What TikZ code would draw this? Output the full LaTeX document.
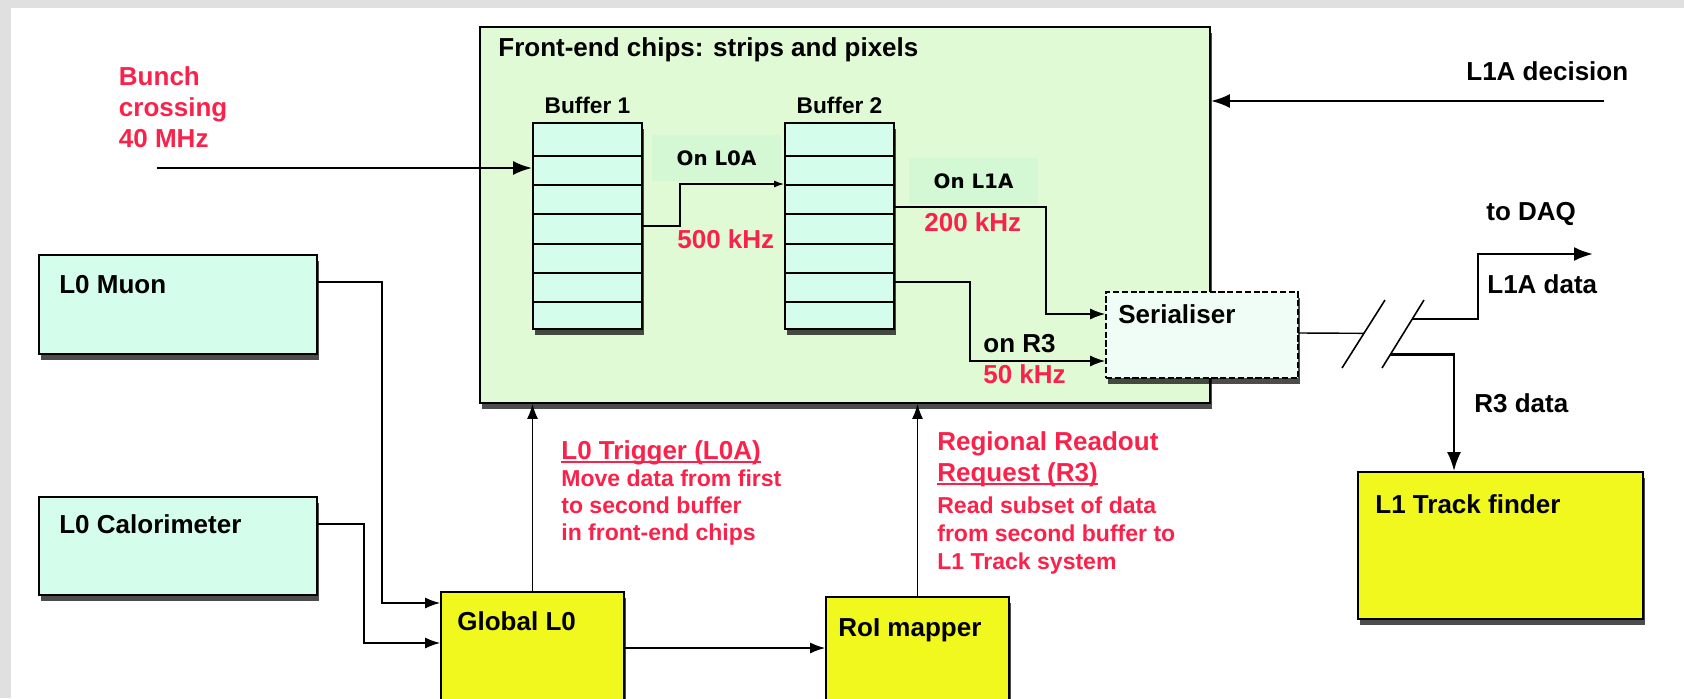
\documentclass[tikz,border=0pt]{standalone}
\usepackage{fontspec}
\setmainfont{Liberation Sans}
\newfontfamily\onfont{DejaVu Sans}
\usetikzlibrary{arrows.meta, positioning, calc, fit, shadows}

\definecolor{bggray}{RGB}{224,224,224}
\definecolor{fechip}{RGB}{224,250,214}
\definecolor{l0fill}{RGB}{213,253,235}
\definecolor{trigyellow}{RGB}{240,248,30}
\definecolor{serfill}{RGB}{240,253,246}
\definecolor{onlabel}{RGB}{212,248,212}
\definecolor{ratered}{RGB}{250,34,74}

\tikzset{
    every node/.style={inner sep=0pt, font=\bfseries\fontsize{14.8}{17.5}\selectfont},
    boxshadow/.style={drop shadow={shadow xshift=0.4mm, shadow yshift=-1.1mm, fill=black, opacity=0.7}},
    chipbox/.style={draw, line width=1pt, fill=fechip, boxshadow},
    bufbox/.style={draw, line width=1pt, fill=l0fill, boxshadow},
    l0box/.style={draw, line width=1pt, fill=l0fill, boxshadow},
    trigbox/.style={draw, line width=1pt, fill=trigyellow, boxshadow},
    serbox/.style={draw, line width=1pt, dash pattern=on 3.5pt off 1.5pt, fill=serfill, boxshadow},
    onbox/.style={fill=onlabel, minimum width=25.8mm, minimum height=9.1mm,
        font=\onfont\bfseries\fontsize{11.3}{13}\selectfont},
    lbl/.style={anchor=base west},
    rate/.style={lbl, text=ratered},
    bodytext/.style={anchor=north west, align=left, text=ratered},
    conn/.style={line width=0.8pt, -{Latex[length=3mm, width=2.2mm]}},
    smallconn/.style={line width=0.8pt, -{Latex[length=2mm, width=1.4mm]}},
    bigarrow/.style={line width=1.4pt, -{Latex[length=3.8mm, width=2.8mm]}},
}

\begin{document}
\begin{tikzpicture}[x=0.2mm, y=-0.2mm]
    \useasboundingbox (0,0) rectangle (1684,698);
    \fill[bggray] (0,0) rectangle (1684,698);
    \fill[white] (11,8) rectangle (1684,698);

    % front-end chips with the two buffers
    \node[chipbox, fit={(480,27) (1210,403)}] (frontend) {};
    \node[onbox] (onl0a) at (716.5,158) {On L0A};
    \node[onbox] (onl1a) at (973.5,181) {On L1A};
    \node[bufbox, fit={(533,123) (642,329)}] (buf1) {};
    \node[bufbox, fit={(785,123) (894,329)}] (buf2) {};
    \foreach \b in {buf1,buf2}
        \foreach \yy in {156,185,214,244,273,302}
            \draw[line width=0.9pt] (\b.west |- 0,\yy) -- (\b.east |- 0,\yy);
    \node[serbox, fit={(1106,292) (1298,378)}] (serial) {};

    % trigger boxes
    \node[l0box, fit={(39,255) (317,354)}] (muon) {};
    \node[l0box, fit={(39,497) (317,595)}] (calo) {};
    \node[trigbox, fit={(441,592) (624,720)}] (global) {};
    \node[trigbox, fit={(826,597) (1009,720)}] (roi) {};
    \node[trigbox, fit={(1358,472) (1643,619)}] (track) {};

    % free ends and the cut marks
    \coordinate (bunchin) at (157,168);
    \coordinate (decin) at (1604,101);
    \coordinate (daq) at (1593,254);
    \coordinate (s1a) at (1342,368); \coordinate (s1b) at (1385,300);
    \coordinate (s2a) at (1382,368); \coordinate (s2b) at (1424,300);

    \draw[bigarrow] (bunchin) -- (buf1.west |- bunchin);
    \draw[bigarrow] (decin) -- (frontend.east |- decin);
    \draw[conn] (muon.east |- 0,282) -- (382,282) |- (global.west |- 0,603);
    \draw[conn] (calo.east |- 0,524) -- (364,524) |- (global.west |- 0,643);
    \draw[conn] (global.north) -- (frontend.south -| global.north);
    \draw[conn] (global.east |- 0,648) -- (roi.west |- 0,648);
    \draw[conn] (roi.north) -- (frontend.south -| roi.north);
    \draw[smallconn] (buf1.east |- 0,226) -- (680,226) |- (buf2.west |- 0,184);
    \draw[conn] (buf2.east |- 0,207) -- (1046,207) |- (serial.west |- 0,314);
    \draw[conn] (buf2.east |- 0,282) -- (970,282) |- (serial.west |- 0,361);
    \draw[line width=0.8pt] (serial.east |- 0,333) -- ($(s1a)!0.51!(s1b)$);
    \draw[line width=0.9pt] (s1a) -- (s1b) (s2a) -- (s2b);
    \draw[bigarrow] ($(s2a)!0.72!(s2b)$) -| (1478,254) -- (daq);
    \draw[bigarrow] ($(s2a)!0.2!(s2b)$) -| (track.north -| 1454,0);

    % labels
    \node[lbl] (fetitle) at (498,56.7) {Front-end chips: strips and pixels};
    \node[anchor=base, font=\bfseries\fontsize{12.9}{15}\selectfont] (buf1lbl) at (buf1.north |- 0,113.3) {Buffer 1};
    \node[anchor=base, font=\bfseries\fontsize{12.9}{15}\selectfont] (buf2lbl) at (buf2.north |- 0,113.3) {Buffer 2};
    \node[anchor=north west, align=left, text=ratered] (bunch) at (118.6,66.7) {Bunch\\crossing\\40 MHz};
    \node[lbl] (decision) at (1466,80) {L1A decision};
    \node[lbl] (todaq) at (1486,220) {to DAQ};
    \node[lbl] (l1adata) at (1487,293) {L1A data};
    \node[lbl] (r3data) at (1474,412) {R3 data};
    \node[lbl] (muonlbl) at (59,293) {L0 Muon};
    \node[lbl] (calolbl) at (59,533) {L0 Calorimeter};
    \node[lbl] (globallbl) at (457,630) {Global L0};
    \node[lbl] (roilbl) at (838,636) {RoI mapper};
    \node[lbl] (tracklbl) at (1375,513) {L1 Track finder};
    \node[lbl] (serlbl) at (1118,323) {Serialiser};
    \node[rate] (rate500) at (677,248) {500 kHz};
    \node[rate] (rate200) at (924,231) {200 kHz};
    \node[lbl] (onr3) at (983,352) {on R3};
    \node[rate] (rate50) at (983,383) {50 kHz};

    \node[rate] (trig) at (561,459) {L0 Trigger (L0A)};
    \draw[ratered, line width=0.8pt] ([yshift=-1.6pt]trig.base west) -- ([yshift=-1.6pt]trig.base east);
    \node[bodytext, font=\bfseries\fontsize{13.1}{15.4}\selectfont] (trigtxt) at (561,469.6)
        {Move data from first\\to second buffer\\in front-end chips};
    \node[rate] (reg1) at (937,450) {Regional Readout};
    \node[rate] (reg2) at (937,481) {Request (R3)};
    \draw[ratered, line width=0.8pt] ([yshift=-1.6pt]reg2.base west) -- ([yshift=-1.6pt]reg2.base east);
    \node[bodytext, font=\bfseries\fontsize{13.1}{16.1}\selectfont] (regtxt) at (937,496)
        {Read subset of data\\from second buffer to\\L1 Track system};
\end{tikzpicture}
\end{document}
